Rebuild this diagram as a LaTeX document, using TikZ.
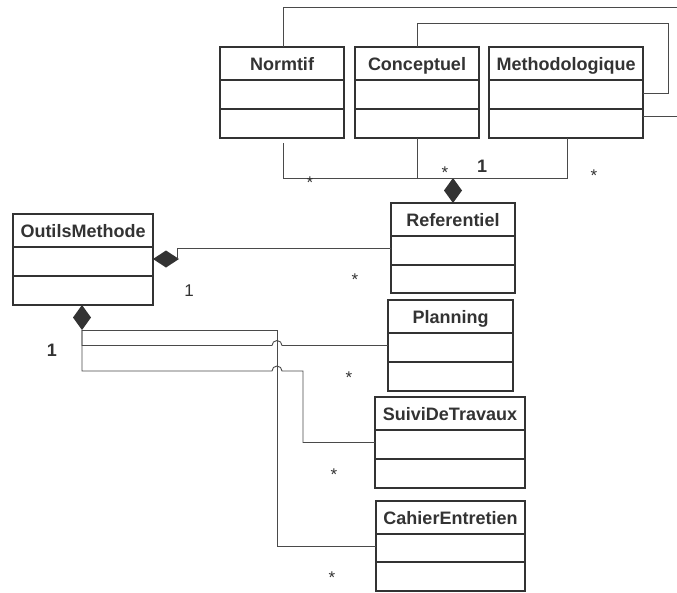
\documentclass[tikz,border=0pt]{standalone}
\usepackage{fontspec}
\setmainfont{Liberation Sans}
\usetikzlibrary{shapes.geometric}
\definecolor{ink}{HTML}{333333}
\definecolor{wire}{HTML}{4A4A4A}
\tikzset{
  clsbox/.style={draw=ink, line width=1.3pt, inner sep=0pt, outer sep=0pt, fill=white},
  clsline/.style={draw=ink, line width=1.3pt},
  clstitle/.style={inner sep=0pt, text=ink, font=\fontsize{18}{20}\selectfont\bfseries},
  conn/.style={draw=wire, line width=0.9pt},
  agg/.style={diamond, fill=ink, draw=none, inner sep=0pt, outer sep=0pt},
  mult/.style={inner sep=0pt, anchor=base, text=ink, font=\fontsize{17}{19}\selectfont},
}
% name, x1, y1, x2, y2, line1, line2, title
\newcommand{\umlclass}[8]{%
  \node[clsbox, anchor=north west, minimum width={(#4-#2)*1pt}, minimum height={(#5-#3)*1pt}] (#1) at (#2,#3) {};
  \node[clstitle, anchor=base] (#1-t) at ({(#2+#4)/2},{(#3+#6)/2+6.5}) {#8};
  \draw[clsline] (#2,#6) -- (#4,#6);
  \draw[clsline] (#2,#7) -- (#4,#7);
}
\begin{document}
\begin{tikzpicture}[x=1pt,y=-1pt]
\useasboundingbox (0,0) rectangle (677,592);

% connectors first (behind boxes)
\coordinate (tr1) at (679,7);
\coordinate (tr2) at (679,116);
\coordinate (tr3) at (668,23);
\coordinate (tr4) at (668,93);

\umlclass{Normtif}{220}{47}{344}{138}{80}{109}{Normtif}
\umlclass{Conceptuel}{355}{47}{479}{138}{80}{109}{Conceptuel}
\umlclass{Methodologique}{489}{47}{643}{138}{80}{109}{Methodologique}
\umlclass{Referentiel}{391}{203}{515}{293}{236}{265}{Referentiel}
\umlclass{Planning}{388}{300}{513}{391}{333}{362}{Planning}
\umlclass{SuiviDeTravaux}{375}{397}{525}{488}{430}{459}{SuiviDeTravaux}
\umlclass{CahierEntretien}{376}{501}{525}{591}{534}{562}{CahierEntretien}
\umlclass{OutilsMethode}{13}{214}{153}{305}{247}{276}{OutilsMethode}

% top self connectors
\draw[conn] ([xshift=63pt]Normtif.north west) |- (tr1) -- (tr2) -- (Methodologique.east |- tr2);
\draw[conn] ([xshift=62pt]Conceptuel.north west) |- (tr3) -- (tr4) -- (Methodologique.east |- tr4);

% Referentiel aggregation
\node[agg, minimum width=18pt, minimum height=25pt] (d1) at (453,190.5) {};
\draw[conn] ([xshift=63pt,yshift=-5pt]Normtif.south west) |- (d1.north);
\draw[conn] ([xshift=62pt]Conceptuel.south west) |- (d1.north);
\draw[conn] ([xshift=78pt]Methodologique.south west) |- (d1.north);

% OutilsMethode -> Referentiel
\node[agg, minimum width=26pt, minimum height=17pt] (d2) at (166,259) {};
\draw[conn] ([xshift=-2pt]d2.east) |- (Referentiel.west);

% OutilsMethode -> Planning / SuiviDeTravaux / CahierEntretien
\node[agg, minimum width=18pt, minimum height=25pt] (d3) at (82,317.5) {};
\coordinate (vx) at (277,330);
\coordinate (h1) at (272,345.5);
\coordinate (h2) at (272,371);
\coordinate (sv) at (303,371);
\draw[conn] (d3.south) -- (vx) |- (CahierEntretien.west);
\draw[conn] (d3.south) |- (h1) arc[start angle=180, end angle=0, radius=5pt] -- (Planning.west);
\draw[conn] (d3.south) |- (h2) arc[start angle=180, end angle=0, radius=5pt] -- (sv) |- (SuiviDeTravaux.west);

% multiplicities
\node[mult] (m1) at (310,188) {*};
\node[mult] (m2) at (445,178) {*};
\node[mult, font=\fontsize{18}{20}\selectfont\bfseries] (m3) at (482,172) {1};
\node[mult] (m4) at (594,181) {*};
\node[mult] (m5) at (189,296) {1};
\node[mult] (m6) at (355,285) {*};
\node[mult, font=\fontsize{18}{20}\selectfont\bfseries] (m7) at (52,356) {1};
\node[mult] (m8) at (349,383) {*};
\node[mult] (m9) at (334,480) {*};
\node[mult] (m10) at (332,583) {*};
\end{tikzpicture}
\end{document}
